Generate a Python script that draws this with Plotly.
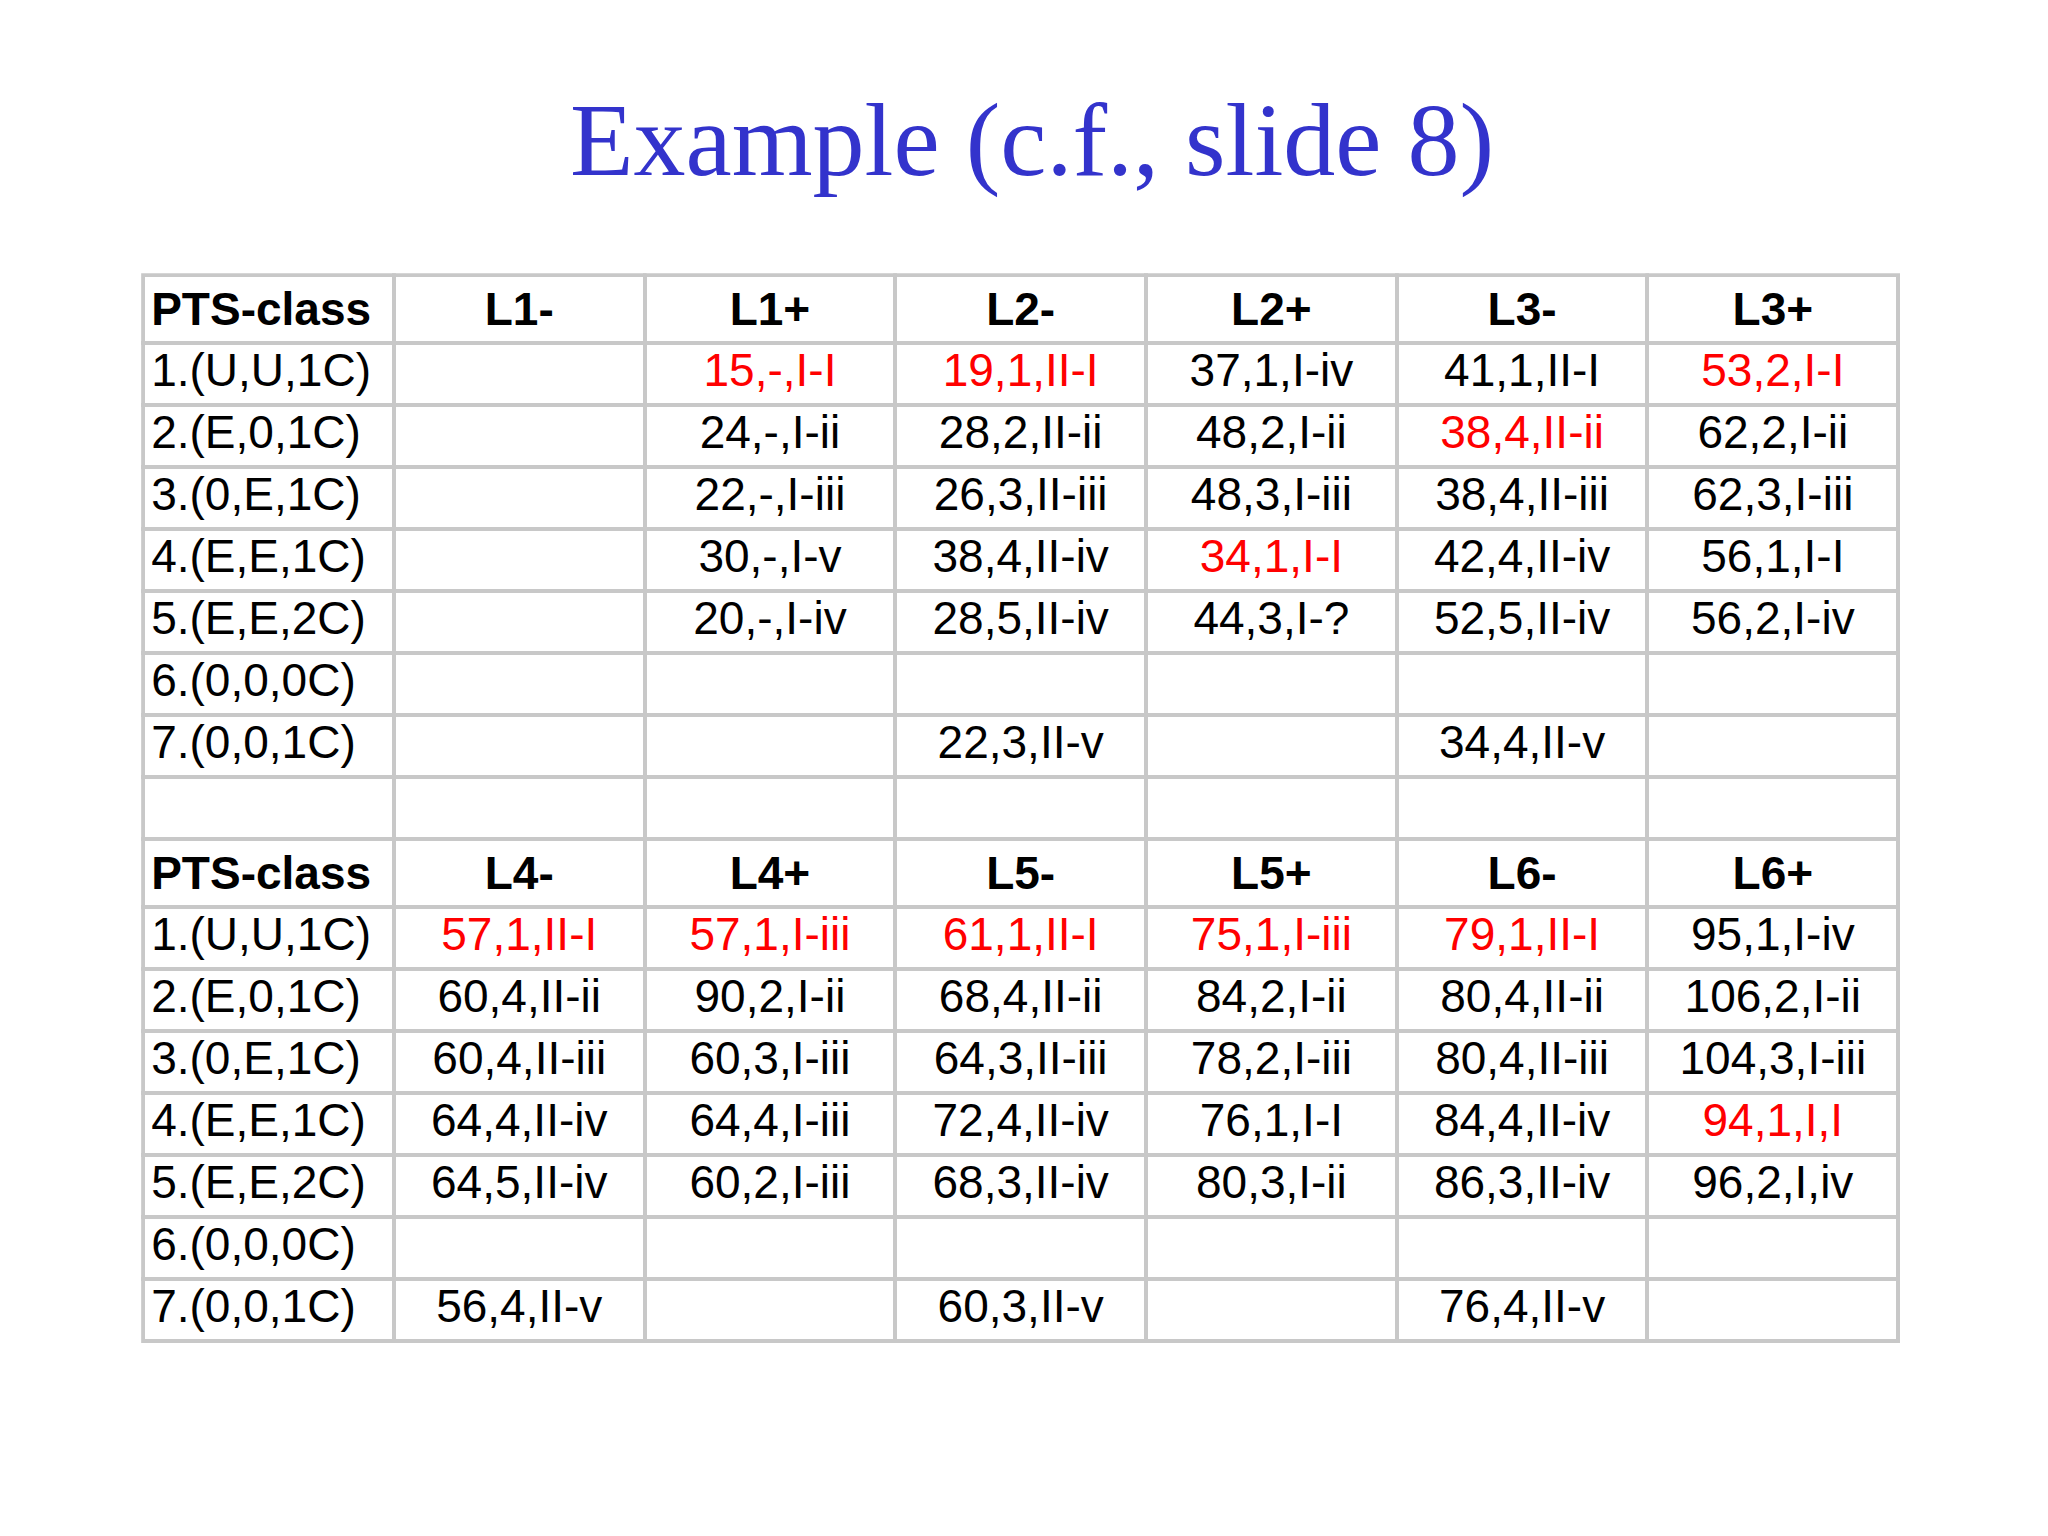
import plotly.graph_objects as go

row_labels = ["1.(U,U,1C)", "2.(E,0,1C)", "3.(0,E,1C)", "4.(E,E,1C)",
              "5.(E,E,2C)", "6.(0,0,0C)", "7.(0,0,1C)"]

top_header = ["PTS-class", "L1-", "L1+", "L2-", "L2+", "L3-", "L3+"]
top_rows = [
    ["", "15,-,I-I", "19,1,II-I", "37,1,I-iv", "41,1,II-I", "53,2,I-I"],
    ["", "24,-,I-ii", "28,2,II-ii", "48,2,I-ii", "38,4,II-ii", "62,2,I-ii"],
    ["", "22,-,I-iii", "26,3,II-iii", "48,3,I-iii", "38,4,II-iii", "62,3,I-iii"],
    ["", "30,-,I-v", "38,4,II-iv", "34,1,I-I", "42,4,II-iv", "56,1,I-I"],
    ["", "20,-,I-iv", "28,5,II-iv", "44,3,I-?", "52,5,II-iv", "56,2,I-iv"],
    ["", "", "", "", "", ""],
    ["", "", "22,3,II-v", "", "34,4,II-v", ""],
]
top_red = [(0, 1), (0, 2), (0, 5), (1, 4), (3, 3)]

bottom_header = ["PTS-class", "L4-", "L4+", "L5-", "L5+", "L6-", "L6+"]
bottom_rows = [
    ["57,1,II-I", "57,1,I-iii", "61,1,II-I", "75,1,I-iii", "79,1,II-I", "95,1,I-iv"],
    ["60,4,II-ii", "90,2,I-ii", "68,4,II-ii", "84,2,I-ii", "80,4,II-ii", "106,2,I-ii"],
    ["60,4,II-iii", "60,3,I-iii", "64,3,II-iii", "78,2,I-iii", "80,4,II-iii", "104,3,I-iii"],
    ["64,4,II-iv", "64,4,I-iii", "72,4,II-iv", "76,1,I-I", "84,4,II-iv", "94,1,I,I"],
    ["64,5,II-iv", "60,2,I-iii", "68,3,II-iv", "80,3,I-ii", "86,3,II-iv", "96,2,I,iv"],
    ["", "", "", "", "", ""],
    ["56,4,II-v", "", "60,3,II-v", "", "76,4,II-v", ""],
]
bottom_red = [(0, 0), (0, 1), (0, 2), (0, 3), (0, 4), (3, 5)]

# assemble all rows of the grid
rows, colors = [], []
rows.append(["<b>%s</b>" % h for h in top_header]); colors.append(["black"] * 7)
for i, r in enumerate(top_rows):
    rows.append([row_labels[i]] + r)
    colors.append(["black"] + ["red" if (i, j) in top_red else "black" for j in range(6)])
rows.append([""] * 7); colors.append(["black"] * 7)
rows.append(["<b>%s</b>" % h for h in bottom_header]); colors.append(["black"] * 7)
for i, r in enumerate(bottom_rows):
    rows.append([row_labels[i]] + r)
    colors.append(["black"] + ["red" if (i, j) in bottom_red else "black" for j in range(6)])

columns = [[r[c] for r in rows] for c in range(7)]
col_colors = [[cl[c] for cl in colors] for c in range(7)]

fig = go.Figure(go.Table(
    domain=dict(x=[0.066, 0.923], y=[0.125, 0.826]),
    header=dict(values=[""] * 7, height=0, line=dict(width=0), fill_color="white"),
    cells=dict(
        values=columns,
        height=62.0,
        align=["left"] + ["center"] * 6,
        font=dict(family="Liberation Sans, Arial", size=46, color=col_colors),
        line=dict(color="#c8c8c8", width=4),
        fill_color="white",
    ),
))

fig.add_annotation(text="Example (c.f., slide 8)", x=0.5, y=0.953,
                   xref="paper", yref="paper", showarrow=False,
                   font=dict(family="Liberation Serif, Times New Roman", size=104, color="#3333cc"))

fig.update_layout(width=2048, height=1536, margin=dict(l=0, r=0, t=0, b=0),
                  paper_bgcolor="white", plot_bgcolor="white")
fig.write_html("out.html")
